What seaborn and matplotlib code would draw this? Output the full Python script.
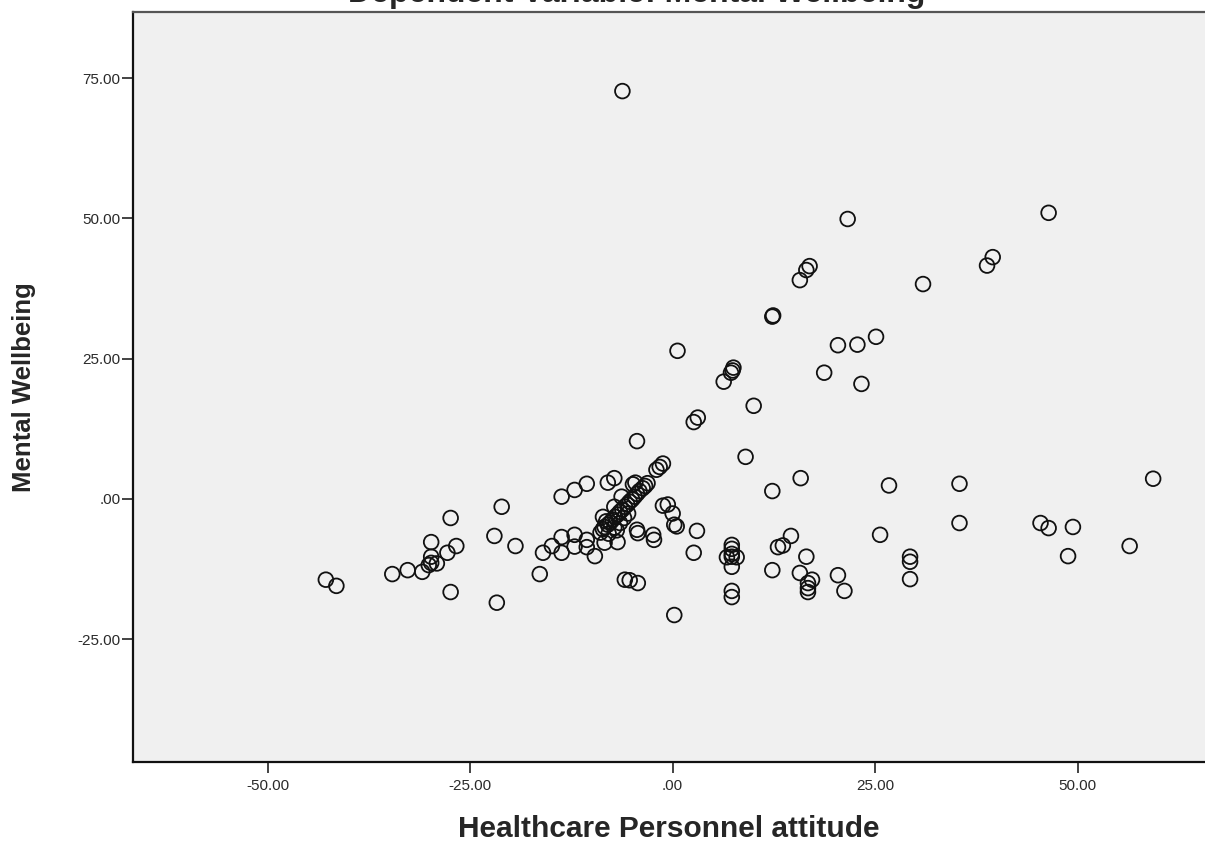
import matplotlib
matplotlib.use("Agg")
import matplotlib.pyplot as plt
from matplotlib.ticker import FuncFormatter, FixedLocator
import seaborn as sns
import pandas as pd

# Partial regression residuals: attitude (x) vs. wellbeing (y)
attitude = [
    -6.2, 21.6, 46.4, 39.5, 38.8, 30.9, 15.7, 16.5, 16.9, 12.3,
    12.4, 25.1, 20.4, 22.8, 18.7, 23.3, 6.3, 7.2, 7.5, 7.4,
    0.6, 10.0, 2.6, 3.1, -4.4, 9.0, 59.3, 15.8, 12.3, 26.7,
    35.4, 35.4, 25.6, 45.4, 46.4, 49.4, 48.8, 56.4, 29.3, 29.3,
    29.3, 3.0, 2.6, 7.3, 7.3, 7.3, 7.3, 6.7, 7.9, 7.3,
    7.3, 7.3, 14.6, 13.0, 13.6, 16.5, 12.3, 15.7, 17.2, 16.7,
    16.7, 16.7, 20.4, 21.2,
    -13.7, -12.1, -10.6, -8.0, -7.2, -4.6, -2.0, -1.6, -1.2, -1.2,
    -0.6, 0.0, 0.2, 0.5, -2.4, -2.3, -4.4, -4.3, -5.9, -5.3,
    -4.3, 0.2, -13.7, -12.1, -10.6, -13.7, -12.1, -9.6, -16.0, -14.9,
    -10.6, -16.4, -19.4, -22.0, -21.1, -21.7, -27.4, -27.4, -27.8, -26.7,
    -29.8, -29.8, -29.8, -30.1, -29.1, -30.9, -32.7, -34.6, -42.8, -41.5,
    -8.6, -8.4, -8.4, -6.8, -7.2, -6.3, -4.9,
    -8.9, -8.6, -8.0, -7.7, -7.4, -7.1, -6.8, -6.5, -6.2, -5.9,
    -5.6, -5.3, -5.0, -4.7, -4.4, -4.1, -3.7, -3.4, -3.1,
    -7.9, -7.2, -6.5, -6.0, -5.5, -8.2, -6.9,
]
wellbeing = [
    72.7, 49.9, 51.0, 43.1, 41.6, 38.3, 39.0, 40.8, 41.5, 32.5,
    32.7, 28.9, 27.4, 27.5, 22.5, 20.5, 20.9, 22.5, 23.4, 22.9,
    26.4, 16.6, 13.7, 14.5, 10.3, 7.5, 3.6, 3.7, 1.4, 2.4,
    2.7, -4.3, -6.4, -4.3, -5.2, -5.0, -10.2, -8.4, -10.3, -11.2,
    -14.3, -5.7, -9.6, -8.2, -8.9, -9.8, -10.3, -10.4, -10.4, -12.1,
    -16.4, -17.5, -6.6, -8.6, -8.3, -10.3, -12.7, -13.2, -14.4, -15.0,
    -15.9, -16.6, -13.6, -16.4,
    0.4, 1.6, 2.7, 2.9, 3.7, 2.9, 5.2, 5.7, 6.3, -1.2,
    -1.0, -2.6, -4.6, -4.9, -6.4, -7.3, -5.5, -6.1, -14.4, -14.5,
    -15.0, -20.7, -6.8, -6.4, -7.3, -9.6, -8.5, -10.2, -9.6, -8.4,
    -8.6, -13.4, -8.4, -6.6, -1.4, -18.5, -3.4, -16.6, -9.6, -8.4,
    -7.7, -10.3, -11.4, -11.8, -11.5, -13.0, -12.7, -13.4, -14.4, -15.5,
    -3.2, -5.0, -7.8, -7.7, -1.4, 0.4, 2.6,
    -6.0, -5.4, -4.6, -4.2, -3.7, -3.2, -2.8, -2.3, -1.9, -1.4,
    -1.0, -0.5, -0.1, 0.4, 0.9, 1.4, 1.9, 2.3, 2.8,
    -6.2, -5.1, -4.3, -3.4, -2.6, -4.0, -5.6,
]

x_ticks = [-50, -25, 0, 25, 50]
y_ticks = [-25, 0, 25, 50, 75]
x_label = "Healthcare Personnel attitude"
y_label = "Mental Wellbeing"
title = "Dependent Variable: Mental Wellbeing"

df = pd.DataFrame({x_label: attitude, y_label: wellbeing})

sns.set_style("white")
plt.rcParams["font.family"] = ["Liberation Sans", "DejaVu Sans"]

W, H = 1205, 852
fig = plt.figure(figsize=(W / 100, H / 100), dpi=100)
ax = fig.add_axes([133 / W, 1 - 762 / H, 1 - 133 / W, 750 / H])
ax.set_facecolor("#f0f0f0")

sns.scatterplot(data=df, x=x_label, y=y_label, ax=ax, marker="o",
                s=112, linewidth=1.3, edgecolor="#111111", legend=False)
for coll in ax.collections:
    coll.set_facecolor("none")
    coll.set_edgecolor("#111111")

ax.set_xlim(-66.6, 65.7)
ax.set_ylim(-46.9, 86.8)


def spss_fmt(v, pos):
    s = f"{v:.2f}"
    if s.startswith("0."):
        s = s[1:]
    elif s.startswith("-0."):
        s = "-" + s[2:]
    return s


ax.xaxis.set_major_locator(FixedLocator(x_ticks))
ax.yaxis.set_major_locator(FixedLocator(y_ticks))
ax.xaxis.set_major_formatter(FuncFormatter(spss_fmt))
ax.yaxis.set_major_formatter(FuncFormatter(spss_fmt))
ax.tick_params(axis="both", direction="out", length=8, width=1.2,
               color="#222222", labelsize=11, labelcolor="#2a2a2a",
               bottom=True, left=True)
ax.tick_params(axis="y", pad=1)
ax.tick_params(axis="x", pad=4)

for side in ("left", "bottom"):
    ax.spines[side].set_color("#111111")
    ax.spines[side].set_linewidth(1.6)
ax.spines["top"].set_color("#555555")
ax.spines["top"].set_linewidth(1.6)
ax.spines["right"].set_visible(False)

ax.set_xlabel(x_label, fontsize=21.5, fontweight="bold", va="top")
ax.xaxis.set_label_coords(0.5, (762 - 815) / 750)
ax.set_ylabel(y_label, fontsize=18.5, fontweight="bold", va="bottom")
ax.yaxis.set_label_coords((36 - 133) / (W - 133), 0.5)

fig.text(637 / W, 1 - 2 / H, title, ha="center", va="baseline",
         fontsize=23, fontweight="bold")

fig.savefig("out.png", dpi=100, facecolor="white")
